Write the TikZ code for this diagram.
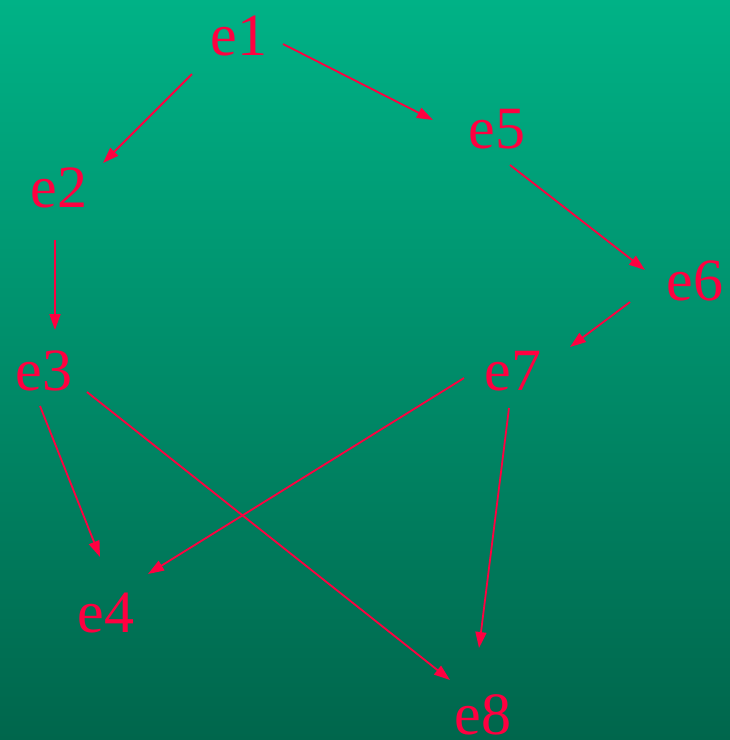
\documentclass[tikz,border=0pt]{standalone}
\usepackage{fontspec}
\setmainfont{Liberation Serif}
\usetikzlibrary{arrows.meta,calc}
\definecolor{bgtop}{RGB}{0,178,134}
\definecolor{bgbot}{RGB}{0,102,76}
\definecolor{lblred}{RGB}{255,0,64}
\begin{document}
\begin{tikzpicture}[x=1pt,y=-1pt,
  lab/.style={text=lblred,font=\fontsize{60}{60}\selectfont,inner sep=0pt,anchor=base},
  edge/.style={draw=lblred,line width=1.8pt,-{Triangle[length=16pt,width=11pt]}}]
\useasboundingbox (0,0) rectangle (730,740);
\shade[top color=bgtop,bottom color=bgbot] (0,0) rectangle (730,740);
\node[lab] (e1) at (239,55) {e1};
\node[lab] (e2) at (59,207) {e2};
\node[lab] (e3) at (44,390) {e3};
\node[lab] (e4) at (106,632) {e4};
\node[lab] (e5) at (497,148) {e5};
\node[lab] (e6) at (695,300) {e6};
\node[lab] (e7) at (513,390) {e7};
\node[lab] (e8) at (483,734) {e8};
\draw[edge] ($(e1.base)+(-47,19)$) -- ($(e2.base)+(44,-44)$);
\draw[edge] ($(e1.base)+(44,-11)$) -- ($(e5.base)+(-64,-28)$);
\draw[edge] ($(e2.base)+(-4,33)$) -- ($(e3.base)+(11,-60)$);
\draw[edge] ($(e5.base)+(13,17)$) -- ($(e6.base)+(-50,-30)$);
\draw[edge] ($(e6.base)+(-65,2)$) -- ($(e7.base)+(57,-43)$);
\draw[edge] ($(e3.base)+(-4,16)$) -- ($(e4.base)+(-6,-75)$);
\draw[edge] ($(e3.base)+(43,2)$) -- ($(e8.base)+(-33,-54)$);
\draw[edge] ($(e7.base)+(-49,-12)$) -- ($(e4.base)+(42,-58)$);
\draw[edge] ($(e7.base)+(-4,18)$) -- ($(e8.base)+(-4,-86)$);
\end{tikzpicture}
\end{document}
